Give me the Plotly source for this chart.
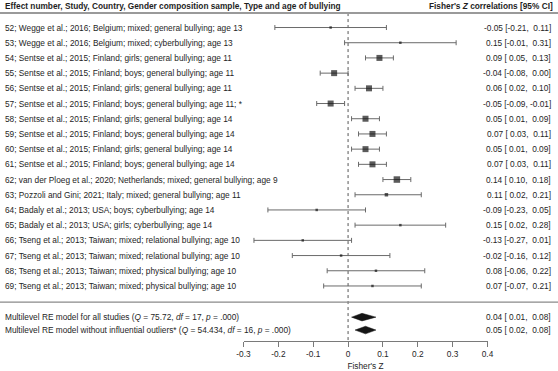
import plotly.graph_objects as go

# ---------------- data ----------------
study_labels = [
    "52; Wegge et al.; 2016; Belgium; mixed; general bullying; age 13",
    "53; Wegge et al.; 2016; Belgium; mixed; cyberbullying; age 13",
    "54; Sentse et al.; 2015; Finland; girls; general bullying; age 11",
    "55; Sentse et al.; 2015; Finland; boys; general bullying; age 11",
    "56; Sentse et al.; 2015; Finland; girls; general bullying; age 11",
    "57; Sentse et al.; 2015; Finland; boys; general bullying; age 11; *",
    "58; Sentse et al.; 2015; Finland; girls; general bullying; age 14",
    "59; Sentse et al.; 2015; Finland; boys; general bullying; age 14",
    "60; Sentse et al.; 2015; Finland; girls; general bullying; age 14",
    "61; Sentse et al.; 2015; Finland; boys; general bullying; age 14",
    "62; van der Ploeg et al.; 2020; Netherlands; mixed; general bullying; age 9",
    "63; Pozzoli and Gini; 2021; Italy; mixed; general bullying; age 11",
    "64; Badaly et al.; 2013; USA; boys; cyberbullying; age 14",
    "65; Badaly et al.; 2013; USA; girls; cyberbullying; age 14",
    "66; Tseng et al.; 2013; Taiwan; mixed; relational bullying; age 10",
    "67; Tseng et al.; 2013; Taiwan; mixed; relational bullying; age 10",
    "68; Tseng et al.; 2013; Taiwan; mixed; physical bullying; age 10",
    "69; Tseng et al.; 2013; Taiwan; mixed; physical bullying; age 10",
]
est = [-0.05, 0.15, 0.09, -0.04, 0.06, -0.05, 0.05, 0.07, 0.05, 0.07, 0.14, 0.11, -0.09, 0.15, -0.13, -0.02, 0.08, 0.07]
ci_lo = [-0.21, -0.01, 0.05, -0.08, 0.02, -0.09, 0.01, 0.03, 0.01, 0.03, 0.10, 0.02, -0.23, 0.02, -0.27, -0.16, -0.06, -0.07]
ci_hi = [0.11, 0.31, 0.13, 0.00, 0.10, -0.01, 0.09, 0.11, 0.09, 0.11, 0.18, 0.21, 0.05, 0.28, 0.01, 0.12, 0.22, 0.21]
weight_size = [2.5, 2.5, 6, 6, 6, 6, 6, 6, 6, 6, 6.5, 3.5, 2.5, 2.5, 2.5, 2.5, 2.5, 2.5]

summary_labels = [
    "Multilevel RE model for all studies (<i>Q</i> = 75.72, <i>df</i> = 17, <i>p</i> = .000)",
    "Multilevel RE model without influential outliers* (<i>Q</i> = 54.434, <i>df</i> = 16, <i>p</i> = .000)",
]
sum_est = [0.04, 0.05]
sum_lo = [0.01, 0.02]
sum_hi = [0.08, 0.08]

x_ticks = [-0.3, -0.2, -0.1, 0, 0.1, 0.2, 0.3, 0.4]
x_ticktext = ["-0.3", "-0.2", "-0.1", "0", "0.1", "0.2", "0.3", "0.4"]

header_left = "Effect number, Study, Country, Gender composition sample, Type and age of bullying"
header_right = "Fisher's <i>Z</i> correlations [95% CI]"
x_title = "Fisher's Z"

# ---------------- layout constants ----------------
FONT = "Liberation Sans, Arial, Helvetica, sans-serif"
FS = 8.3
TXT = "#1e1e1e"
W, H = 558, 371

n = len(est)
rows = list(range(n))
sum_rows = [n + 1.05, n + 1.9]
sep_row = n + 0.06
head_row = -1.42
head_line_row = -0.95
y_top, y_bot = -1.81, 20.62


def fmt(e, l, h):
    s = f"{e:.2f} [{l:5.2f}, {h:5.2f}]"
    return s.replace(" ", "\u00a0")


fig = go.Figure()

# study estimates with CIs
fig.add_trace(go.Scatter(
    x=est, y=rows, mode="markers",
    marker=dict(symbol="square", size=weight_size, color="#151515", line=dict(width=0)),
    error_x=dict(type="data", symmetric=False,
                 array=[h - e for e, h in zip(est, ci_hi)],
                 arrayminus=[e - l for e, l in zip(est, ci_lo)],
                 color="#6a6a6a", thickness=1, width=2.5),
    hoverinfo="skip", showlegend=False, cliponaxis=False,
))

# summary diamonds
for r, e, l, h in zip(sum_rows, sum_est, sum_lo, sum_hi):
    d = 0.25
    fig.add_trace(go.Scatter(
        x=[l, e, h, e, l], y=[r, r - d, r, r + d, r],
        mode="lines", fill="toself", fillcolor="#151515",
        line=dict(width=0.5, color="#151515"),
        hoverinfo="skip", showlegend=False,
    ))

annotations = []
for r, lab, e, l, h in zip(rows, study_labels, est, ci_lo, ci_hi):
    annotations.append(dict(x=3.3 / W, y=r, xref="paper", yref="y", text=lab,
                            xanchor="left", yanchor="middle", showarrow=False,
                            font=dict(family=FONT, size=FS, color=TXT)))
    annotations.append(dict(x=553 / W, y=r, xref="paper", yref="y", text=fmt(e, l, h),
                            xanchor="right", yanchor="middle", showarrow=False,
                            font=dict(family=FONT, size=FS, color=TXT)))
for r, lab, e, l, h in zip(sum_rows, summary_labels, sum_est, sum_lo, sum_hi):
    annotations.append(dict(x=3.3 / W, y=r, xref="paper", yref="y", text=lab,
                            xanchor="left", yanchor="middle", showarrow=False,
                            font=dict(family=FONT, size=FS, color=TXT)))
    annotations.append(dict(x=553 / W, y=r, xref="paper", yref="y", text=fmt(e, l, h),
                            xanchor="right", yanchor="middle", showarrow=False,
                            font=dict(family=FONT, size=FS, color=TXT)))
annotations.append(dict(x=3.3 / W, y=head_row, xref="paper", yref="y",
                        text="<b>" + header_left + "</b>",
                        xanchor="left", yanchor="middle", showarrow=False,
                        font=dict(family=FONT, size=FS, color=TXT)))
annotations.append(dict(x=555 / W, y=head_row, xref="paper", yref="y",
                        text="<b>" + header_right + "</b>",
                        xanchor="right", yanchor="middle", showarrow=False,
                        font=dict(family=FONT, size=FS, color=TXT)))

shapes = [
    dict(type="line", xref="paper", yref="y", x0=0, x1=1, y0=head_line_row, y1=head_line_row,
         line=dict(color="#9a9a9a", width=2)),
    dict(type="line", xref="paper", yref="y", x0=0, x1=1, y0=sep_row, y1=sep_row,
         line=dict(color="#8a8a8a", width=1.3)),
    dict(type="line", xref="x", yref="y", x0=0, x1=0, y0=head_line_row, y1=y_bot,
         line=dict(color="#555555", width=1, dash="dot"), layer="below"),
]

fig.update_layout(
    width=W, height=H,
    margin=dict(l=0, r=0, t=0, b=30, pad=0),
    paper_bgcolor="white", plot_bgcolor="white",
    showlegend=False,
    annotations=annotations, shapes=shapes,
    xaxis=dict(domain=[243.5 / W, 487.5 / W], range=[-0.3, 0.4],
               tickvals=x_ticks, ticktext=x_ticktext,
               showline=True, linecolor="#7a7a7a", linewidth=1,
               ticks="outside", ticklen=5, tickcolor="#7a7a7a", tickwidth=1,
               showgrid=False, zeroline=False, fixedrange=True,
               tickfont=dict(family=FONT, size=FS, color=TXT),
               title=dict(text=x_title, standoff=7, font=dict(family=FONT, size=FS, color=TXT)),
               automargin=False),
    yaxis=dict(range=[y_bot, y_top], visible=False, fixedrange=True),
)

fig.write_html(
    "out.html",
    config={"displayModeBar": False},
    post_script="document.body.style.margin='0';document.body.style.overflow='hidden';",
)
